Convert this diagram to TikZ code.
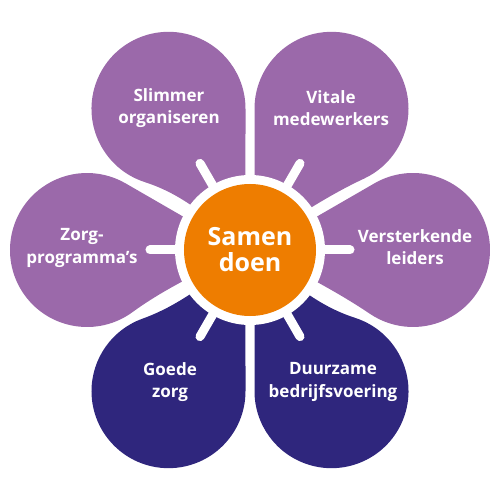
\documentclass[tikz,border=0pt]{standalone}
\usepackage{fontspec}
\setmainfont{Open Sans}
\usepackage{tikz}
\usepackage{xcolor}
\definecolor{petallight}{HTML}{9B69AA}
\definecolor{petaldark}{HTML}{2F267D}
\definecolor{heartorange}{HTML}{EE7D00}
\tikzstyle{flower}=[
  x=1pt,y=1pt,font=\bfseries
]
\tikzstyle{petaltop}=[
  fill=petallight
]
\tikzstyle{petalbottom}=[
  fill=petaldark
]
\tikzstyle{spoke}=[
  draw=white,line width=9pt,line cap=round
]
\tikzstyle{petallabel}=[
  text=white,align=center,inner sep=0pt,
  font=\bfseries\fontsize{17}{22.5}\selectfont
]
\tikzstyle{heartlabel}=[
  text=white,align=center,inner sep=0pt,
  font=\bfseries\fontsize{25}{26}\selectfont
]
% #1 direction, #2 style, #3/#4 where the two flanks meet the round end
\newcommand{\petal}[4]{
  \fill[#2,rotate=#1] (9,0)
    .. controls (48,22.5) and ({163+77*cos(#3)-45*sin(#3)},{77*sin(#3)+45*cos(#3)})
    .. ({163+77*cos(#3)},{77*sin(#3)})
    arc[start angle=#3,end angle=-#4,radius=77pt]
    .. controls ({163+77*cos(#4)-45*sin(#4)},{-77*sin(#4)-45*cos(#4)}) and (48,-22.5)
    .. (9,0) -- cycle;
}

\begin{document}
\begin{tikzpicture}[flower]
    \useasboundingbox (-250,-250) rectangle (250,250);
    % petals
    \petal{0}{petaltop}{120}{124}
    \petal{60}{petaltop}{120}{125}
    \petal{120}{petaltop}{132}{120}
    \petal{180}{petaltop}{126}{120}
    \petal{240}{petalbottom}{120}{130}
    \petal{300}{petalbottom}{132}{120}
    % spokes and ring
    \fill[white] (0,0) circle[radius=75pt];
    \foreach \a in {0,60,...,300}
      \draw[spoke] (\a:72) -- (\a:100);
    \fill[heartorange] (0,0) circle[radius=66pt];
    % labels
    \node (samen) at (0,0) [heartlabel] {Samen\\doen};
    \node (slimmer) at (-81,142) [petallabel] {Slimmer\\organiseren};
    \node (vitale) at (81,142) [petallabel] {Vitale\\medewerkers};
    \node (zorg) at (-168,2) [petallabel] {Zorg-\\programma’s};
    \node (versterkende) at (165,3) [petallabel] {Versterkende\\leiders};
    \node (goede) at (-80,-132) [petallabel] {Goede\\zorg};
    \node (duurzame) at (83,-132) [petallabel] {Duurzame\\bedrijfsvoering};
  \end{tikzpicture}
\end{document}
